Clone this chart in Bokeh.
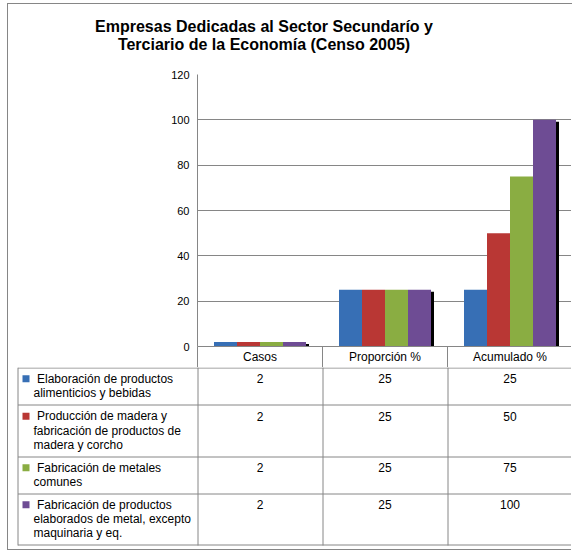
from bokeh.plotting import figure
from bokeh.models import Range1d, FixedTicker, ColumnDataSource, Div
from bokeh.embed import file_html
from bokeh.resources import INLINE
from bokeh.core.properties import value

# ---------------- data ----------------
title_lines = ["Empresas Dedicadas al Sector Secundarío y",
               "Terciario de la Economía (Censo 2005)"]
categories = ["Casos", "Proporción %", "Acumulado %"]
series_names = [
    "Elaboración de productos\nalimenticios y bebidas",
    "Producción de madera y\nfabricación de productos de\nmadera y corcho",
    "Fabricación de metales\ncomunes",
    "Fabricación de productos\nelaborados de metal, excepto\nmaquinaria y eq.",
]
alimentos = [2, 25, 25]
madera = [2, 25, 50]
metales = [2, 25, 75]
productos_metal = [2, 25, 100]
y_ticks = [0, 20, 40, 60, 80, 100, 120]

series_values = [alimentos, madera, metales, productos_metal]

# ---------------- styles / layout (picture px) ----------------
colors = ["#376FB5", "#B93734", "#8AAD42", "#6E4C94"]
FONT = "Liberation Sans"
GRID = "#868686"
BORDER_CSS = "1px solid #868686"
BOX_L, BOX_T = 7, 3          # outer chart border position
X0 = BOX_L + 1               # canvas left in picture px
W = 572 - X0
TITLE_B = 60
FRAME_L, FRAME_T, FRAME_B = 197, 74, 346
TABLE_T = 367
TABLE_B = 550
CAT_W = (X0 + W - FRAME_L) / len(categories)
BAR_PX = 23
ROW_EDGES = [367, 404, 456, 493, 544]
LINE_H = 14.3
HEADER_H = TABLE_T - FRAME_B
TITLE_TOP = 13.5
TITLE_LH = 18.5

# ---------------- title ----------------
title_w = 2 * (264 - X0)
parts = []
for j, t in enumerate(title_lines):
    parts.append('<div style="position:absolute;left:0;top:%.1fpx;width:%dpx;height:%.1fpx;'
                 'text-align:center;line-height:%.1fpx;white-space:nowrap;'
                 'font-family:\'%s\';font-weight:bold;font-size:16px;color:black;">%s</div>'
                 % (TITLE_TOP + j * TITLE_LH, title_w, TITLE_LH, TITLE_LH, FONT, t))
inner = ('<div style="position:relative;width:%dpx;height:%dpx;margin:0;padding:0;">%s</div>'
         % (title_w, TITLE_B - BOX_T - 1, "".join(parts)))
title = Div(text=inner, width=W + 1, height=TITLE_B - BOX_T,
            margin=(BOX_T, 0, 0, BOX_L),
            styles={"border-left": BORDER_CSS, "border-top": BORDER_CSS,
                    "box-sizing": "border-box", "background": "white",
                    "overflow": "visible"})

# ---------------- chart ----------------
p1 = figure(width=W, height=TABLE_T - TITLE_B, output_backend="svg", toolbar_location=None,
            x_range=Range1d(0, len(categories)), y_range=Range1d(0, max(y_ticks)),
            min_border_left=FRAME_L - X0, min_border_right=0,
            min_border_top=FRAME_T - TITLE_B, min_border_bottom=HEADER_H)
p1.outline_line_color = None
p1.styles = {"margin-left": "%dpx" % BOX_L, "border-left": BORDER_CSS}

bar_w = BAR_PX / CAT_W
px_y = max(y_ticks) / (FRAME_B - FRAME_T)
n = len(series_values)
for i, vals in enumerate(series_values):
    xs = [k + 0.5 + (i - (n - 1) / 2) * bar_w for k in range(len(categories))]
    src = ColumnDataSource(dict(x=xs, top=vals))
    shadow = ColumnDataSource(dict(x=[x + 3 / CAT_W for x in xs],
                                   top=[v - 2 * px_y for v in vals]))
    p1.vbar(x="x", top="top", bottom=0, width=bar_w, source=shadow,
            fill_color="black", line_color=None)
    p1.vbar(x="x", top="top", bottom=0, width=bar_w, source=src,
            fill_color=colors[i], line_color=None)

p1.yaxis.ticker = FixedTicker(ticks=y_ticks)
p1.ygrid.ticker = FixedTicker(ticks=y_ticks)
p1.ygrid.grid_line_color = GRID
p1.xgrid.visible = False
p1.yaxis.axis_line_color = GRID
p1.yaxis.major_tick_out = 0
p1.yaxis.major_tick_in = 0
p1.yaxis.minor_tick_out = 0
p1.yaxis.minor_tick_in = 0
p1.yaxis.major_label_standoff = 8
p1.yaxis.major_label_text_font = FONT
p1.yaxis.major_label_text_font_size = "11px"
p1.yaxis.major_label_text_color = "black"

p1.xaxis.ticker = FixedTicker(ticks=[k + 0.5 for k in range(len(categories))],
                              minor_ticks=list(range(len(categories))))
p1.xaxis.major_label_overrides = {k + 0.5: c for k, c in enumerate(categories)}
p1.xaxis.axis_line_color = GRID
p1.xaxis.major_tick_out = 0
p1.xaxis.major_tick_in = 0
p1.xaxis.minor_tick_in = 0
p1.xaxis.minor_tick_out = HEADER_H
p1.xaxis.minor_tick_line_color = GRID
p1.xaxis.major_label_standoff = 3 - HEADER_H
p1.xaxis.major_label_text_font = FONT
p1.xaxis.major_label_text_font_size = "12px"
p1.xaxis.major_label_text_color = "black"

# ---------------- data table ----------------
p2 = figure(width=W, height=TABLE_B - TABLE_T, output_backend="svg", toolbar_location=None,
            x_range=Range1d(X0, X0 + W), y_range=Range1d(TABLE_B, TABLE_T),
            min_border=0, x_axis_location=None, y_axis_location=None)
p2.outline_line_color = None
p2.grid.visible = False
p2.styles = {"margin-left": "%dpx" % BOX_L, "border-left": BORDER_CSS,
             "border-bottom": BORDER_CSS}

TL = 17.5
col_edges = [FRAME_L + 0.5 + CAT_W * k for k in range(len(categories) + 1)]
p2.segment(x0=[TL] * len(ROW_EDGES), x1=[X0 + W] * len(ROW_EDGES),
           y0=[e + 0.5 for e in ROW_EDGES], y1=[e + 0.5 for e in ROW_EDGES],
           line_color=GRID, line_width=1)
vx = [TL] + col_edges[:-1]
p2.segment(x0=vx, x1=vx, y0=[ROW_EDGES[0]] * len(vx), y1=[ROW_EDGES[-1] + 1] * len(vx),
           line_color=GRID, line_width=1)

lx, ly, lt = [], [], []
mx, my, mc = [], [], []
vxs, vys, vts = [], [], []
for r, name in enumerate(series_names):
    lines = name.split("\n")
    center = (ROW_EDGES[r] + ROW_EDGES[r + 1]) / 2
    first = center - (len(lines) - 1) * LINE_H / 2
    for j, line in enumerate(lines):
        lx.append(36.5 if j == 0 else 33)
        ly.append(first + j * LINE_H)
        lt.append(line)
    mx.append(25.5)
    my.append(first)
    mc.append(colors[r])
    for k, v in enumerate(series_values[r]):
        vxs.append(FRAME_L + CAT_W * (k + 0.5))
        vys.append(first)
        vts.append(str(v))

p2.text(x=lx, y=ly, text=lt, text_font=value(FONT), text_font_size="12px",
        text_align="left", text_baseline="middle", text_color="black")
p2.text(x=vxs, y=vys, text=vts, text_font=value(FONT), text_font_size="12px",
        text_align="center", text_baseline="middle", text_color="black")
p2.scatter(x=mx, y=my, marker="square", size=7, fill_color=mc, line_color=None)

open("out.html", "w").write(file_html([title, p1, p2], INLINE))
